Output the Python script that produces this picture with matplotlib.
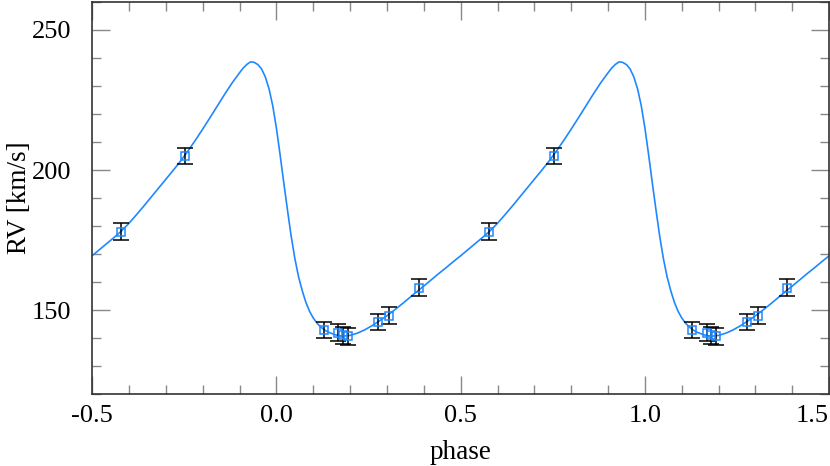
import numpy as np
import matplotlib
matplotlib.use('Agg')
import matplotlib.pyplot as plt

plt.rcParams['font.family'] = ['Liberation Serif', 'DejaVu Serif']

# 觀測資料 (相位, 徑向速度, 誤差)
obs_phase = [0.128, 0.168, 0.180, 0.193, 0.277, 0.306, 0.386, 0.578, 0.752]
obs_rv = [142.9, 141.9, 141.1, 140.7, 145.8, 148.0, 158.0, 178.0, 205.0]
obs_err = [3.0, 3.0, 3.0, 3.0, 3.0, 3.0, 3.0, 3.0, 3.0]

# 模型曲線 (一個週期, 從圖上讀取)
curve_phase = [-0.50, -0.48, -0.46, -0.44, -0.42, -0.40, -0.38, -0.36, -0.34, -0.32,
               -0.30, -0.28, -0.26, -0.24, -0.22, -0.20, -0.18, -0.16, -0.14, -0.12,
               -0.10, -0.09, -0.08, -0.07, -0.06, -0.05, -0.04, -0.03, -0.02, -0.01,
               0.00, 0.01, 0.02, 0.03, 0.04, 0.05, 0.06, 0.07, 0.08, 0.09,
               0.10, 0.11, 0.12, 0.13, 0.14, 0.16, 0.18, 0.20, 0.22, 0.24,
               0.26, 0.28, 0.30, 0.32, 0.34, 0.36, 0.38, 0.40, 0.42, 0.44,
               0.46, 0.48, 0.50]
curve_rv = [169.4, 171.6, 173.8, 176.0, 178.3, 181.0, 184.0, 187.1, 190.3, 193.5,
            196.7, 199.9, 203.2, 206.8, 210.6, 214.6, 218.7, 222.9, 227.1, 231.1,
            234.7, 236.4, 237.7, 238.6, 238.4, 237.6, 236.0, 233.2, 229.0, 223.0,
            215.0, 205.5, 195.5, 185.8, 176.5, 168.5, 162.0, 157.0, 152.8, 149.6,
            147.2, 145.4, 144.0, 143.0, 142.2, 141.2, 140.7, 141.0, 141.8, 143.0,
            144.5, 146.2, 148.0, 150.0, 152.1, 154.3, 156.5, 158.6, 160.8, 163.0,
            165.1, 167.3, 169.4]

blue = '#1f88ff'

fig, ax = plt.subplots(figsize=(8.3, 4.66), dpi=100)
fig.subplots_adjust(left=0.111, right=0.999, bottom=0.154, top=0.996)

# 畫兩個週期
ph = np.array(curve_phase)
rv = np.array(curve_rv)
ax.plot(np.concatenate([ph, ph + 1]), np.concatenate([rv, rv]), color=blue, lw=1.2, zorder=2)

op = np.array(obs_phase)
orv = np.array(obs_rv)
oerr = np.array(obs_err)
shifted = np.where(op < 0.5, op + 1, op - 1)
for x in (op, shifted):
    ax.errorbar(x, orv, yerr=oerr, fmt='s', mfc='none', mec=blue, mew=1.1, ms=5.5,
                ecolor='black', elinewidth=1.1, capsize=5.5, capthick=1.1, zorder=3)

ax.set_xlim(-0.5, 1.5)
ax.set_ylim(120, 260)
ax.set_xticks([-0.5, 0.0, 0.5, 1.0, 1.5])
ax.set_xticklabels(['-0.5', '0.0', '0.5', '1.0', '1.5'])
ax.get_xticklabels()[-1].set_horizontalalignment('right')
ax.set_xticks(np.arange(-0.5, 1.51, 0.1), minor=True)
ax.set_yticks([150, 200, 250])
ax.set_yticks(np.arange(120, 261, 10), minor=True)

ax.tick_params(which='both', direction='in', top=True, right=True, color='#888888', width=1.0)
ax.tick_params(which='major', length=13, labelsize=19)
ax.tick_params(which='minor', length=6.5)
ax.tick_params(axis='y', which='major', pad=15)
ax.tick_params(axis='x', which='major', pad=8)
for s in ax.spines.values():
    s.set_color('#333333')
    s.set_linewidth(1.2)

ax.set_xlabel('phase', fontsize=19.5, labelpad=9)
ax.set_ylabel('RV [km/s]', fontsize=19.5, labelpad=0)

fig.savefig('out.png', dpi=100)
